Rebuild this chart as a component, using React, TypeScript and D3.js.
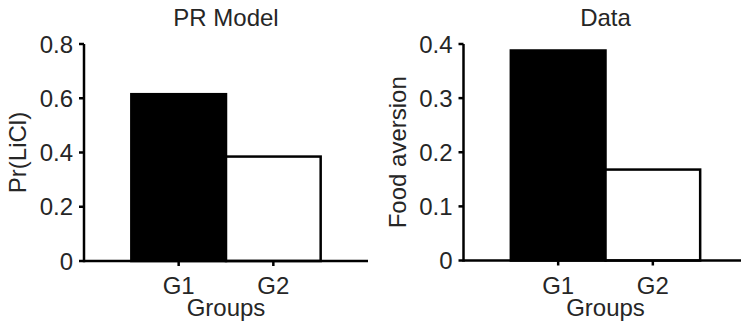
import React from "react";
import * as d3 from "d3";

const groups = ["G1", "G2"];
const modelValues = [0.615, 0.385];
const dataValues = [0.388, 0.168];
const modelTicks = [0, 0.2, 0.4, 0.6, 0.8];
const dataTicks = [0, 0.1, 0.2, 0.3, 0.4];
const fills = ["#000000", "#ffffff"];

const FONT = "'Liberation Sans', Arial, Helvetica, sans-serif";
const TEXT = "#262626";
const FS = 24;

type PanelProps = {
  title: string;
  yLabel: string;
  values: number[];
  ticks: number[];
  yMax: number;
  x0: number;
  x1: number;
  y0: number;
  y1: number;
};

function Panel({ title, yLabel, values, ticks, yMax, x0, x1, y0, y1 }: PanelProps) {
  const x = d3.scaleLinear().domain([0, 3]).range([x0, x1]);
  const y = d3.scaleLinear().domain([0, yMax]).range([y0, y1]);
  const lw = 2.5;
  const tickLen = 5;
  return (
    <g fontFamily={FONT} fontSize={FS} fill={TEXT}>
      <text x={(x0 + x1) / 2} y={26} textAnchor="middle">{title}</text>
      {values.map((v, i) => (
        <rect
          key={i}
          x={x(i + 0.5)}
          y={y(v)}
          width={x(i + 1.5) - x(i + 0.5)}
          height={y(0) - y(v)}
          fill={fills[i]}
          stroke="#000"
          strokeWidth={lw}
        />
      ))}
      <line x1={x0} x2={x1} y1={y0} y2={y0} stroke="#000" strokeWidth={lw} />
      <line x1={x0} x2={x0} y1={y0 + lw / 2} y2={y1} stroke="#000" strokeWidth={lw} />
      {ticks.map((t) => (
        <g key={t}>
          <line x1={x0 - tickLen} x2={x0} y1={y(t)} y2={y(t)} stroke="#000" strokeWidth={lw} />
          <text x={x0 - 11} y={y(t)} dy="0.36em" textAnchor="end">{String(t)}</text>
        </g>
      ))}
      {groups.map((g, i) => (
        <g key={g}>
          <line x1={x(i + 1)} x2={x(i + 1)} y1={y0} y2={y0 + tickLen} stroke="#000" strokeWidth={lw} />
          <text x={x(i + 1)} y={294} textAnchor="middle">{g}</text>
        </g>
      ))}
      <text x={(x0 + x1) / 2} y={316} textAnchor="middle">Groups</text>
      <text
        transform={`translate(${x0 - 58},${(y0 + y1) / 2}) rotate(-90)`}
        textAnchor="middle"
      >
        {yLabel}
      </text>
    </g>
  );
}

export default function App() {
  return (
    <svg
      width={741}
      height={328}
      style={{ position: "absolute", left: 0, top: 0, background: "#fff" }}
    >
      <rect width={741} height={328} fill="#fff" />
      <Panel
        title="PR Model"
        yLabel="Pr(LiCl)"
        values={modelValues}
        ticks={modelTicks}
        yMax={0.8}
        x0={84}
        x1={368}
        y0={261}
        y1={44}
      />
      <Panel
        title="Data"
        yLabel="Food aversion"
        values={dataValues}
        ticks={dataTicks}
        yMax={0.4}
        x0={463.5}
        x1={747.5}
        y0={260.5}
        y1={44}
      />
    </svg>
  );
}
